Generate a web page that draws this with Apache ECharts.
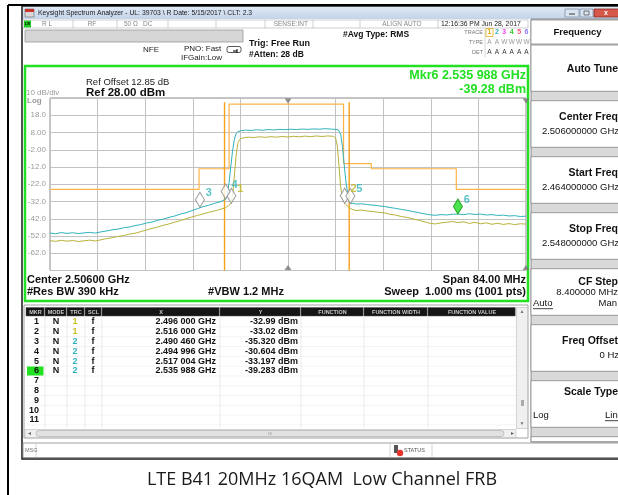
<!DOCTYPE html>
<html><head><meta charset="utf-8">
<script src="https://cdn.jsdelivr.net/npm/echarts@6/dist/echarts.min.js"></script>
<style>html,body{margin:0;padding:0;background:#fff}#c{width:618px;height:495px}</style>
</head><body><div id="c"></div>
<script>
// ---------- DATA ----------
const startMHz = 2464, stopMHz = 2548, refLevel = 28, bottomLevel = -72;
const yTickLabels = ['18.0','8.00','-2.00','-12.0','-22.0','-32.0','-42.0','-52.0','-62.0'];

// Trace 2 (cyan)
const trace2Freq = [2464,2465,2466,2467,2468,2469,2470,2471,2472,2473,2474,2475,2476,2477,2478,2479,2480,2481,2482,2483,2484,2485,2486,2487,2488,2489,2490,2491,2492,2493,2494,2494.5,2495,2495.3,2495.6,2495.9,2496.2,2496.5,2496.8,2497.2,2497.8,2498.5,2499.5,2500.5,2501.5,2502.5,2503.5,2504.5,2505.5,2506.5,2507.5,2508.5,2509.5,2510.5,2511.5,2512.5,2513.5,2514.3,2514.9,2515.3,2515.6,2515.9,2516.2,2516.6,2517,2517.5,2518,2519,2520,2521,2522,2523,2524,2525,2526,2527,2528,2529,2530,2531,2532,2533,2534,2535,2536,2537,2538,2539,2540,2541,2542,2543,2544,2545,2546,2547,2548];
const trace2Level = [-50.3,-50.7,-50.0,-50.5,-50.1,-50.6,-50.2,-49.9,-50.3,-49.6,-49.1,-48.4,-48.0,-47.2,-46.8,-46.0,-45.4,-44.5,-43.9,-42.9,-42.2,-41.2,-40.4,-39.3,-38.5,-37.3,-36.2,-35.0,-34.2,-33.1,-32.2,-31.5,-30.6,-27.5,-21.0,-12.0,-3.2,3.4,7.1,8.6,9.1,9.4,9.2,9.6,9.3,9.7,9.5,9.8,9.6,9.9,9.7,10.0,9.8,10.1,9.9,10.2,10.0,9.8,9.5,7.0,0.0,-10.0,-20.0,-29.0,-33.2,-33.0,-33.5,-33.3,-33.8,-34.1,-34.5,-34.9,-35.5,-36.0,-36.6,-37.1,-37.8,-38.4,-39.1,-39.7,-40.0,-39.6,-39.8,-39.4,-39.3,-39.6,-39.1,-39.5,-39.3,-39.8,-39.6,-40.1,-39.9,-40.4,-40.2,-40.7,-40.5];

// Trace 1 (yellow)
const trace1Freq = [2464,2465,2466,2467,2468,2469,2470,2471,2472,2473,2474,2475,2476,2477,2478,2479,2480,2481,2482,2483,2484,2485,2486,2487,2488,2489,2490,2491,2492,2493,2494,2495,2495.5,2496.0,2496.3,2496.6,2496.9,2497.2,2497.6,2498.2,2499,2500,2501,2502,2503,2504,2505,2506,2507,2508,2509,2510,2511,2512,2513,2514,2514.4,2514.7,2515.0,2515.3,2515.6,2516.0,2516.5,2517,2517.5,2518,2519,2520,2521,2522,2523,2524,2525,2526,2527,2528,2529,2530,2531,2532,2533,2534,2535,2536,2537,2538,2539,2540,2541,2542,2543,2544,2545,2546,2547,2548];
const trace1Level = [-54.7,-55.1,-54.5,-55.0,-54.6,-55.2,-54.8,-54.4,-54.9,-54.2,-53.5,-53.0,-52.2,-51.8,-50.9,-50.4,-49.5,-48.5,-47.6,-46.8,-45.8,-45.0,-44.0,-43.1,-42.0,-41.0,-40.1,-39.2,-38.3,-37.5,-36.6,-35.6,-34.3,-33.0,-26.0,-14.5,-3.5,2.3,4.4,5.0,5.3,5.1,5.5,5.2,5.6,5.3,5.7,5.4,5.8,5.5,5.9,5.6,6.0,5.7,6.0,5.8,4.9,0.2,-11.5,-23.5,-30.2,-33.0,-34.8,-35.9,-36.8,-37.2,-37.0,-37.5,-37.8,-38.3,-38.6,-39.4,-39.9,-40.7,-41.2,-42.0,-42.8,-43.7,-44.6,-45.0,-44.4,-44.0,-43.6,-44.2,-43.8,-44.7,-44.1,-44.9,-44.4,-45.2,-44.6,-45.3,-44.8,-45.4,-44.9,-45.1];

// Limit line (orange, stepped)
const limitFreq  = [2464,2490.3,2490.3,2495.6,2495.6,2515.8,2515.8,2520.7,2520.7,2535.7,2535.7,2548];
const limitLevel = [-25,-25,-13,-13,24.5,24.5,-10,-10,-13,-13,-25,-25];
// Vertical display lines (orange)
const vLineFreq = [2494.8, 2516.8];
const vLineTop = 25.5;

// Markers
const markerFreqGHz = [2.496000, 2.516000, 2.490460, 2.494996, 2.517004, 2.535988];
const markerLevel   = [-32.99, -33.02, -35.320, -30.604, -33.197, -39.283];
const markerTrace   = [1, 1, 2, 2, 2, 2];
const markerYText   = ['-32.99 dBm','-33.02 dBm','-35.320 dBm','-30.604 dBm','-33.197 dBm','-39.283 dBm'];
const activeMarker = 6;

// Softkeys
const softkeyLabels = ['Center Freq','Start Freq','Stop Freq','CF Step','Freq Offset','Scale Type'];
const softkeyValues = ['2.506000000 GHz','2.464000000 GHz','2.548000000 GHz','8.400000 MHz','0 Hz',''];

// ---------- COLORS ----------
const C_CYAN = '#2fb3bb', C_YEL = '#b8b23a', C_ORANGE = '#ffb347', C_ORANGE2 = '#f7a21b', C_GREEN = '#22e022';
const FF = '"Liberation Sans", Arial, sans-serif';

const chart = echarts.init(document.getElementById('c'), null, {renderer:'canvas'});

// ---------- GRAPHIC HELPERS ----------
const G = [];
function T(x, y, text, o) {
  o = o || {};
  G.push({type:'text', x:x, y:y, z:o.z == null ? 50 : o.z, silent:true,
    style:{text:text, fill:o.c || '#222', font:(o.b ? 'bold ' : '') + (o.s || 9) + 'px ' + (o.f || FF),
      textAlign:o.a || 'left', textVerticalAlign:'middle', align:o.a || 'left', verticalAlign:'middle'}});
}
function R(x, y, w, h, fill, stroke, lw, z) {
  G.push({type:'rect', z:z == null ? -10 : z, silent:true, shape:{x:x, y:y, width:w, height:h},
    style:{fill:fill || 'none', stroke:stroke || null, lineWidth:lw || 1}});
}
function L(x1, y1, x2, y2, c, w, z) {
  G.push({type:'line', z:z == null ? -5 : z, silent:true, shape:{x1:x1, y1:y1, x2:x2, y2:y2},
    style:{stroke:c, lineWidth:w || 1}});
}
function fmtGHz(f) { const s = f.toFixed(6); return s.slice(0,5) + ' ' + s.slice(5) + ' GHz'; }

// Outer frame
L(8, 5, 8, 495, '#000', 2, -20);
L(8, 5, 618, 5, '#000', 2, -20);
// Window
R(22, 6, 600, 453, '#ffffff', '#1a1a1a', 1.5, -30);
// Title bar
G.push({type:'rect', z:-9, silent:true, shape:{x:23, y:7, width:596, height:12},
  style:{fill:new echarts.graphic.LinearGradient(0,0,0,1,[{offset:0,color:'#dfe9f6'},{offset:1,color:'#c3d3e9'}])}});
R(25, 9, 9, 8, '#d8d8d8', '#666', 0.6, -8);
R(25, 9, 9, 3, '#c8342c', null, 1, -7);
T(38, 13.5, 'Keysight Spectrum Analyzer - UL: 39703 \\ R Date: 5/15/2017 \\ CLT: 2.3', {s:6.8, c:'#1a1a1a'});
// window buttons
R(565, 9, 14, 8, '#dbe5f2', '#7f8fa6', 0.8, -8); L(569, 14, 575, 14, '#555', 1.2, -7);
R(580, 9, 13, 8, '#dbe5f2', '#7f8fa6', 0.8, -8); R(584, 11, 5, 4, 'none', '#555', 0.8, -7);
R(594, 9, 26, 8, '#d6584b', '#8a2a22', 0.8, -8); T(606, 13, 'x', {s:7, c:'#fff', b:true, a:'center'});

// Status row
R(23, 20, 505, 8, '#ffffff', '#b0b0b0', 0.6, -9);
R(24, 20.5, 7, 7, '#22cc22', null, 1, -8);
T(27.5, 24, 'LXI', {s:3.5, c:'#000', b:true, a:'center'});
[73, 117, 168, 216, 265, 313, 360, 438].forEach(x => L(x, 20, x, 28, '#b0b0b0', 0.6, -7));
T(42, 24, 'R L', {s:6.5, c:'#888'});
T(92, 24, 'RF', {s:6.5, c:'#888', a:'center'});
T(124, 24, '50 Ω', {s:6.5, c:'#888'});
T(143, 24, 'DC', {s:6.5, c:'#888'});
T(308, 24, 'SENSE:INT', {s:6.5, c:'#888', a:'right'});
T(402, 24, 'ALIGN AUTO', {s:6.5, c:'#888', a:'center'});
T(441, 24, '12:16:36 PM Jun 28, 2017', {s:6.8, c:'#222'});

// Gray bar
R(25, 30, 218, 12, '#d5d5d5', '#9a9a9a', 0.8, -9);

// Info row
T(143, 49.5, 'NFE', {s:8, c:'#222'});
T(184, 48.5, 'PNO: Fast', {s:8, c:'#222'});
T(181, 57.5, 'IFGain:Low', {s:8, c:'#222'});
G.push({type:'rect', z:40, silent:true, shape:{x:227, y:46.5, width:14, height:6, r:2}, style:{fill:'#fff', stroke:'#444', lineWidth:0.9}});
L(233, 51, 237, 51, '#222', 1.2, 41); L(237, 49, 237, 53, '#222', 1.2, 41);
T(249, 44, 'Trig: Free Run', {s:9, b:true, c:'#111'});
T(249, 55, '#Atten: 28 dB', {s:8.5, b:true, c:'#111'});
T(343, 35, '#Avg Type: RMS', {s:8.5, b:true, c:'#111'});
T(483, 32.5, 'TRACE', {s:5.5, c:'#777', a:'right'});
T(483, 42.5, 'TYPE', {s:5.5, c:'#777', a:'right'});
T(483, 52, 'DET', {s:5.5, c:'#777', a:'right'});
L(485, 29, 485, 57, '#bbb', 0.6, -7);
const traceDigitColors = ['#e0a800', C_CYAN, '#ee44ee', '#33cc33', '#ff5577', '#8877ff'];
const traceTypes = ['A','A','W','W','W','W'];
for (let i = 0; i < 6; i++) {
  const x = 489.5 + i * 7.4;
  T(x, 32.5, String(i + 1), {s:7, c:traceDigitColors[i], a:'center', b:true});
  T(x, 42.5, traceTypes[i], {s:6.5, c:'#999', a:'center'});
  T(x, 52, 'A', {s:6.5, c:'#333', a:'center'});
}
R(486, 28.5, 7, 8, 'none', '#e0a800', 0.7, 40);

// Green graph panel
R(25, 66, 503, 235, '#ffffff', C_GREEN, 2.5, -9);
T(86, 82, 'Ref Offset 12.85 dB', {s:9.5, c:'#222'});
T(86, 92.5, 'Ref 28.00 dBm', {s:11.5, b:true, c:'#111'});
T(26, 92.5, '10 dB/div', {s:8, c:'#9a9a9a'});
T(27, 101, 'Log', {s:8, c:'#9a9a9a', b:true});
const m6 = activeMarker - 1;
T(526, 76, 'Mkr' + activeMarker + ' ' + fmtGHz(markerFreqGHz[m6]), {s:12.5, b:true, c:C_GREEN, a:'right'});
T(526, 89.5, markerLevel[m6].toFixed(2) + ' dBm', {s:12.5, b:true, c:C_GREEN, a:'right'});
T(27, 279.5, 'Center 2.50600 GHz', {s:11, b:true, c:'#111'});
T(27, 292, '#Res BW 390 kHz', {s:11, b:true, c:'#111'});
T(246, 292, '#VBW 1.2 MHz', {s:11, b:true, c:'#111', a:'center'});
T(526, 279.5, 'Span 84.00 MHz', {s:11, b:true, c:'#111', a:'right'});
T(526, 292, 'Sweep  1.000 ms (1001 pts)', {s:11, b:true, c:'#111', a:'right'});

// Marker table
R(24, 305, 504, 133, '#ffffff', '#8a8a8a', 0.8, -9);
const colEdges = [26, 45, 67, 85, 102, 220, 301, 364, 428, 516];
const colNames = ['MKR','MODE','TRC','SCL','X','Y','FUNCTION','FUNCTION WIDTH','FUNCTION VALUE'];
for (let i = 0; i < colNames.length; i++) {
  R(colEdges[i], 307.5, colEdges[i+1] - colEdges[i] - 0.8, 8.5, '#151515', '#555', 0.5, -8);
  T((colEdges[i] + colEdges[i+1]) / 2, 312, colNames[i], {s:5.5, c:'#c8c8c8', a:'center', b:true});
}
const rowY0 = 322, rowDY = 9.8;
for (let r = 0; r < 11; r++) {
  const y = rowY0 + r * rowDY;
  L(26, y + rowDY / 2, 516, y + rowDY / 2, '#ececec', 0.6, -7);
}
for (let i = 1; i < colEdges.length - 1; i++) L(colEdges[i], 316, colEdges[i], 428, '#dcdcdc', 0.6, -7);
R(27, rowY0 + 5 * rowDY - 4.5, 16.5, 9, '#22e022', null, 1, -6);
for (let r = 0; r < 11; r++) {
  const y = rowY0 + r * rowDY;
  T(39, y, String(r + 1), {s:9, b:true, c:'#111', a:'right'});
  if (r < markerFreqGHz.length) {
    T(56, y, 'N', {s:9, b:true, c:'#111', a:'center'});
    T(75, y, String(markerTrace[r]), {s:9, b:true, c:markerTrace[r] === 1 ? '#c9c020' : C_CYAN, a:'center'});
    T(93, y, 'f', {s:9, b:true, c:'#111', a:'center'});
    T(216, y, fmtGHz(markerFreqGHz[r]), {s:9, b:true, c:'#111', a:'right'});
    T(298, y, markerYText[r], {s:9, b:true, c:'#111', a:'right'});
  }
}
// scrollbars
R(516.5, 307.5, 11, 121, '#f0f0f0', '#bbb', 0.6, -8);
T(522, 311.5, '▲', {s:5, c:'#777', a:'center'});
T(522, 424, '▼', {s:5, c:'#777', a:'center'});
R(521, 400, 3, 6, '#aaa', null, 1, -7);
R(25, 429.5, 491, 8, '#f0f0f0', '#bbb', 0.6, -8);
G.push({type:'rect', z:-7, silent:true, shape:{x:36, y:430.5, width:468, height:6, r:3}, style:{fill:'#e2e2e2', stroke:'#a8a8a8', lineWidth:0.6}});
T(28, 433.5, '◂', {s:6, c:'#666'});
T(511, 433.5, '▸', {s:6, c:'#666'});
T(270, 433.5, 'III', {s:4, c:'#888', a:'center'});

// MSG bar
R(23, 443, 596, 14.5, '#ffffff', '#888', 0.8, -9);
L(36, 443, 36, 457.5, '#bbb', 0.6, -7);
L(390, 443, 390, 457.5, '#bbb', 0.6, -7);
L(432, 443, 432, 457.5, '#bbb', 0.6, -7);
T(25, 450.5, 'MSG', {s:5.5, c:'#777'});
R(394, 445, 4, 8, '#555', null, 1, -6);
G.push({type:'circle', z:-5, silent:true, shape:{cx:400, cy:453, r:3.2}, style:{fill:'#e8342c'}});
T(404, 450, 'STATUS', {s:5.5, c:'#555'});

// Right softkey panel
R(531, 19, 90, 423, '#d9d9d9', '#777', 0.8, -9);
R(531, 20, 90, 24, '#ffffff', '#888', 0.8, -8);
T(577.5, 32, 'Frequency', {s:9.5, b:true, c:'#111', a:'center'});
R(531, 45, 90, 46.3, '#ffffff', '#888', 0.8, -8);
T(618, 69, 'Auto Tune', {s:10.5, b:true, c:'#111', a:'right'});
const keyTops = [100.7, 156.7, 212.7, 268.7, 324.7, 380.7];
for (let i = 0; i < softkeyLabels.length; i++) {
  const t = keyTops[i];
  R(531, t, 90, 46.6, '#ffffff', '#888', 0.8, -8);
  if (softkeyLabels[i] === 'CF Step') {
    T(618, t + 13, softkeyLabels[i], {s:10.5, b:true, c:'#111', a:'right'});
    T(618, t + 24, softkeyValues[i], {s:9.5, c:'#111', a:'right'});
    T(533, t + 35, 'Auto', {s:9.5, c:'#111'});
    L(533, t + 40, 553, t + 40, '#111', 0.8, -4);
    T(617, t + 35, 'Man', {s:9.5, c:'#111', a:'right'});
  } else if (softkeyLabels[i] === 'Scale Type') {
    T(618, t + 11, softkeyLabels[i], {s:10.5, b:true, c:'#111', a:'right'});
    T(533, t + 34.5, 'Log', {s:9.5, c:'#111'});
    T(605, t + 34.5, 'Lin', {s:9.5, c:'#111'});
    L(605, t + 40, 621, t + 40, '#111', 0.8, -4);
  } else {
    T(618, t + 16, softkeyLabels[i], {s:10.5, b:true, c:'#111', a:'right'});
    T(619, t + 31, softkeyValues[i], {s:9.5, c:'#111', a:'right'});
  }
}
R(531, 436.7, 90, 5, '#ffffff', '#888', 0.8, -8);

// Caption
T(322, 479.5, 'LTE B41 20MHz 16QAM  Low Channel FRB', {s:18, c:'#1a1a1a', a:'center', f:'"Open Sans", sans-serif'});

// ---------- SERIES ----------
const zip = (a, b) => a.map((v, i) => [v, b[i]]);
const series = [];
series.push({type:'line', name:'limit', xAxisIndex:0, yAxisIndex:0, data:zip(limitFreq, limitLevel),
  showSymbol:false, symbol:'none', lineStyle:{color:C_ORANGE, width:1.2}, z:3, animation:false});
vLineFreq.forEach(f => series.push({type:'line', xAxisIndex:0, yAxisIndex:0, data:[[f, vLineTop],[f, bottomLevel]],
  symbol:'none', lineStyle:{color:C_ORANGE2, width:1.4}, z:3, animation:false}));
series.push({type:'line', name:'Trace 1', xAxisIndex:0, yAxisIndex:0, data:zip(trace1Freq, trace1Level),
  symbol:'none', lineStyle:{color:C_YEL, width:1}, z:4, animation:false});
series.push({type:'line', name:'Trace 2', xAxisIndex:0, yAxisIndex:0, data:zip(trace2Freq, trace2Level),
  symbol:'none', lineStyle:{color:C_CYAN, width:1}, z:5, animation:false});
series.push({type:'scatter', name:'markers', xAxisIndex:0, yAxisIndex:0, z:8, animation:false,
  symbol:'diamond', symbolSize:[9, 15], symbolOffset:[0, '-50%'],
  data:markerFreqGHz.map((f, i) => {
    const active = (i + 1) === activeMarker;
    return {value:[f * 1000, markerLevel[i]],
      itemStyle:{color: active ? '#22dd22' : '#ffffff', borderColor: active ? '#129912' : '#8a8a8a', borderWidth:1.1},
      label:{show:true, formatter:String(i + 1), position:'right', distance:1, offset:[0, -7],
        color: markerTrace[i] === 1 ? '#c2b420' : C_CYAN, fontSize:11, fontWeight:'bold', fontFamily:'Liberation Sans'}};
  })});
series.push({type:'scatter', xAxisIndex:1, yAxisIndex:1, z:6, animation:false, symbol:'triangle', symbolRotate:180,
  symbolSize:[7, 5], symbolOffset:[0, 3], itemStyle:{color:'#777'}, data:[[5, 10],[10, 10]]});
series.push({type:'scatter', xAxisIndex:1, yAxisIndex:1, z:6, animation:false, symbol:'triangle',
  symbolSize:[7, 5], symbolOffset:[0, -3], itemStyle:{color:'#777'}, data:[[5, 0],[10, 0]]});

chart.setOption({
  animation:false,
  backgroundColor:'#ffffff',
  grid:{left:50, top:98, width:476, height:172.5, show:true, borderColor:'#8c8c8c', borderWidth:1, backgroundColor:'#ffffff'},
  xAxis:[
    {type:'value', min:startMHz, max:stopMHz, show:false},
    {type:'value', min:0, max:10, interval:1, position:'bottom', axisLine:{show:false}, axisTick:{show:false},
      axisLabel:{show:false}, splitLine:{show:true, lineStyle:{color:'#c2c2c2', width:1}}}
  ],
  yAxis:[
    {type:'value', min:bottomLevel, max:refLevel, show:false},
    {type:'value', min:0, max:10, interval:1, position:'left', axisLine:{show:false}, axisTick:{show:false},
      axisLabel:{show:true, color:'#9a9a9a', fontSize:8, fontFamily:'Liberation Sans', margin:4,
        formatter:v => (v >= 1 && v <= 9) ? yTickLabels[9 - v] : ''},
      splitLine:{show:true, lineStyle:{color:'#c2c2c2', width:1}}}
  ],
  series:series,
  graphic:{elements:G}
});
</script></body></html>
